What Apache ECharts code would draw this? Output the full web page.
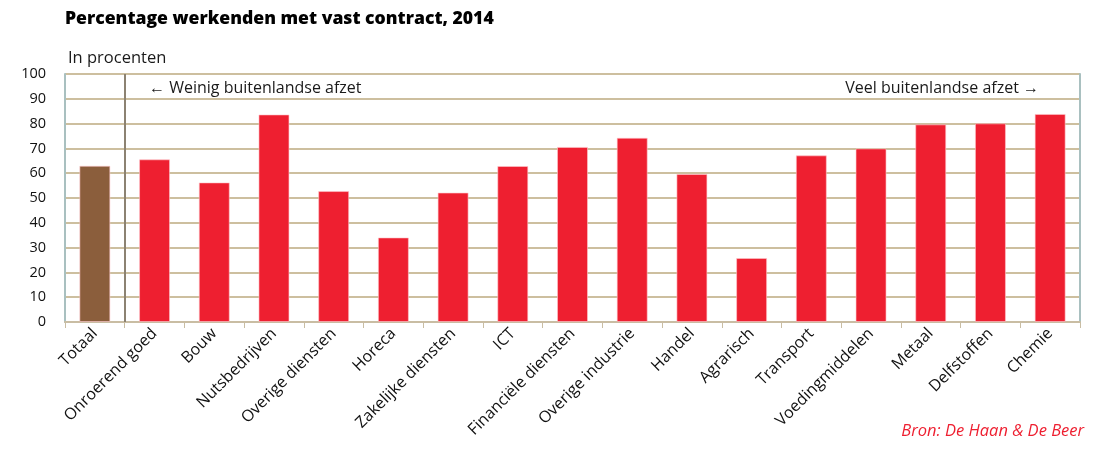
<!DOCTYPE html>
<html>
<head>
<meta charset="utf-8">
<script src="https://cdn.jsdelivr.net/npm/echarts@6/dist/echarts.min.js"></script>
<style>html,body{margin:0;padding:0;background:#fff}#c{width:1097px;height:450px}</style>
</head>
<body>
<div id="c"></div>
<script>
const categories = ['Totaal','Onroerend goed','Bouw','Nutsbedrijven','Overige diensten','Horeca','Zakelijke diensten','ICT','Financiële diensten','Overige industrie','Handel','Agrarisch','Transport','Voedingmiddelen','Metaal','Delfstoffen','Chemie'];
const values = [63, 65.6, 56.3, 83.7, 52.8, 34.1, 52.2, 62.9, 70.6, 74.3, 59.7, 25.8, 67.2, 70.0, 79.7, 80.1, 83.9];
const yTicks = [0,10,20,30,40,50,60,70,80,90,100];
// boundary between "Totaal" and the sectors (in category-index units)
const separatorAt = [0.5];

const font = 'Open Sans';
const chart = echarts.init(document.getElementById('c'));
chart.setOption({
  animation: false,
  textStyle: {fontFamily: font},
  title: [
    {text: 'Percentage werkenden met vast contract, 2014', left: 60, top: 5,
     textStyle: {fontFamily: font, fontWeight: 800, fontSize: 17.6, color: '#000'}},
    {text: 'In procenten', left: 63, top: 45,
     textStyle: {fontFamily: font, fontWeight: 'normal', fontSize: 16.5, color: '#1a1a1a'}},
    {text: '← Weinig buitenlandse afzet', left: 144, top: 75,
     textStyle: {fontFamily: font, fontWeight: 'normal', fontSize: 16, color: '#1a1a1a'}},
    {text: 'Veel buitenlandse afzet →', right: 53, top: 75,
     textStyle: {fontFamily: font, fontWeight: 'normal', fontSize: 16, color: '#1a1a1a'}},
    {text: 'Bron: De Haan & De Beer', right: 8, top: 418,
     textStyle: {fontFamily: font, fontWeight: 'normal', fontStyle: 'italic', fontSize: 16.5, color: '#ee1f30'}}
  ],
  grid: {left: 65, right: 17, top: 74, bottom: 128},
  xAxis: [
    {
      type: 'category',
      data: categories,
      axisLine: {show: true, onZero: false, lineStyle: {color: '#c9bda3', width: 2}},
      axisTick: {show: true, length: 6, lineStyle: {color: '#c9bda3', width: 1}},
      axisLabel: {rotate: 45, fontSize: 16, color: '#111', margin: 9, interval: 0, fontFamily: font}
    },
    {
      type: 'value', min: -0.5, max: categories.length - 0.5, show: false
    }
  ],
  yAxis: [
    {
      type: 'value', min: 0, max: 100, interval: 10,
      axisLine: {show: true, onZero: false, lineStyle: {color: '#a9c0c0', width: 2}},
      axisTick: {show: false},
      axisLabel: {fontSize: 14.5, color: '#111', margin: 19, fontFamily: font,
        formatter: (v) => yTicks.includes(v) ? String(v) : ''},
      splitLine: {show: true, lineStyle: {color: '#cdbf9f', width: 2}}
    },
    {
      type: 'value', min: 0, max: 100, interval: 10, position: 'right',
      axisLine: {show: true, onZero: false, lineStyle: {color: '#a9c0c0', width: 2}},
      axisTick: {show: false}, axisLabel: {show: false}, splitLine: {show: false}
    }
  ],
  series: [
    {
      type: 'bar',
      data: values.map((v, i) => ({value: v, itemStyle: {color: i === 0 ? '#8b5e3c' : '#ee1f30'}})),
      barWidth: 31,
      itemStyle: {borderColor: 'rgba(255,200,205,0.6)', borderWidth: 1}
    },
    {
      type: 'line', xAxisIndex: 1, yAxisIndex: 0, data: [],
      markLine: {
        silent: true, symbol: 'none', label: {show: false},
        lineStyle: {color: '#8c8272', width: 2, type: 'solid'},
        data: separatorAt.map(x => ({xAxis: x}))
      }
    }
  ]
});
</script>
</body>
</html>
